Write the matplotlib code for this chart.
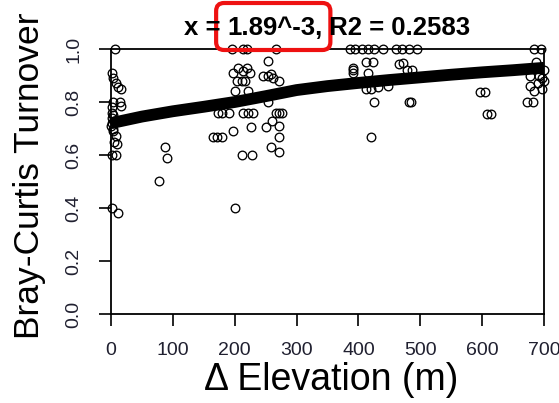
import matplotlib
matplotlib.use("Agg")
import matplotlib.pyplot as plt
from matplotlib.patches import FancyBboxPatch
from matplotlib.transforms import IdentityTransform

plt.rcParams['font.family'] = ['Liberation Sans', 'DejaVu Sans']

# scatter values: elevation difference (m), Bray-Curtis turnover
elev_near0 = [6, 2, 4, 8, 12, 16, 3, 15, 16, 2, 1, 3, 1, 5, 2, 0, 4, 3, 8, 5, 10, 2, 8, 2, 12]
turn_near0 = [1.0, 0.91, 0.89, 0.87, 0.855, 0.85, 0.80, 0.80, 0.785, 0.78, 0.76, 0.75, 0.74, 0.73,
              0.72, 0.71, 0.70, 0.69, 0.67, 0.65, 0.64, 0.60, 0.60, 0.40, 0.38]

elev_low = [78, 88, 91]
turn_low = [0.503, 0.632, 0.587]

elev_mid = [196, 214, 220, 267, 254, 214, 198, 205, 220, 225, 212, 217, 204, 245, 254, 262, 271, 258,
            201, 222, 254, 173, 180, 190, 214, 222, 230, 266, 271, 277,
            198, 227, 251, 261, 271, 165, 172, 180, 271, 258, 271, 212, 228, 201]
turn_mid = [1.0, 1.0, 1.0, 1.0, 0.956, 0.918, 0.91, 0.93, 0.93, 0.91, 0.88, 0.88, 0.88, 0.90, 0.90, 0.89, 0.88, 0.905,
            0.84, 0.84, 0.80, 0.758, 0.758, 0.758, 0.758, 0.758, 0.758, 0.758, 0.758, 0.758,
            0.69, 0.705, 0.705, 0.727, 0.71, 0.667, 0.667, 0.667, 0.667, 0.632, 0.613, 0.60, 0.60, 0.40]

elev_high = [387, 395, 405, 415, 425, 440, 460, 470, 482, 495, 412, 423, 392, 392, 392, 415,
             465, 472, 478, 486, 412, 420, 432, 447, 425, 481, 485, 421]
turn_high = [1.0, 1.0, 1.0, 1.0, 1.0, 1.0, 1.0, 1.0, 1.0, 1.0, 0.952, 0.952, 0.92, 0.93, 0.91, 0.91,
             0.945, 0.949, 0.92, 0.92, 0.85, 0.85, 0.855, 0.86, 0.80, 0.80, 0.80, 0.667]

elev_top = [596, 604, 608, 615, 684, 695, 687, 678, 692, 697, 678, 690, 684, 697, 672, 682, 700, 700]
turn_top = [0.838, 0.838, 0.754, 0.754, 1.0, 1.0, 0.952, 0.90, 0.90, 0.89, 0.86, 0.87, 0.84, 0.85,
            0.80, 0.80, 0.88, 0.92]

# fitted curve
fit_x = [0, 20, 50, 100, 150, 200, 250, 300, 350, 400, 450, 500, 550, 600, 650, 700]
fit_y = [0.720, 0.730, 0.745, 0.765, 0.782, 0.800, 0.822, 0.845, 0.860, 0.872, 0.883, 0.893,
         0.903, 0.912, 0.920, 0.929]

x_ticks = [0, 100, 200, 300, 400, 500, 600, 700]
y_ticks = [0.0, 0.2, 0.4, 0.6, 0.8, 1.0]

title_pre = "x = "
title_box = "1.89^-3,"
title_post = " R2 = 0.2583"

fig = plt.figure(figsize=(5.59, 4.03), dpi=100)
ax = fig.add_axes([111 / 559, 1 - 314 / 403, (544 - 111) / 559, (314 - 49) / 403])

xs = elev_near0 + elev_low + elev_mid + elev_high + elev_top
ys = turn_near0 + turn_low + turn_mid + turn_high + turn_top
ax.plot(xs, ys, 'o', mfc='none', mec='black', ms=6.2, mew=0.95, clip_on=False, zorder=2)
ax.plot(fit_x, fit_y, color='black', lw=8.5, solid_capstyle='butt', zorder=3)

ax.set_xlim(0, 700)
ax.set_ylim(0, 1)
ax.set_xticks(x_ticks)
ax.set_yticks(y_ticks)
ax.set_xticklabels([str(v) for v in x_ticks])
ax.set_yticklabels(["%.1f" % v for v in y_ticks], rotation=90, va='center', ha='right')
ax.tick_params(axis='both', direction='out', length=8.5, width=1.2, labelsize=14,
               labelcolor='#202030')
ax.tick_params(axis='x', pad=12)
ax.tick_params(axis='y', pad=12)
for s in ax.spines.values():
    s.set_linewidth(1.3)

ax.set_xlabel("\u0394 Elevation (m)", fontsize=27)
ax.set_ylabel("Bray-Curtis Turnover", fontsize=25.5)
ax.xaxis.set_label_coords((331 - 111) / 433, (314 - 362) / 265)
ax.yaxis.set_label_coords((46 - 111) / 433, (314 - 176) / 265)

# title drawn in three pieces so the red box can wrap the middle one
title_kw = dict(fontsize=18.5, fontweight='bold', va='center')
renderer = fig.canvas.get_renderer()
parts = []
for s in (title_pre, title_box, title_post):
    t = fig.text(0, 0, s, **title_kw)
    parts.append(t)
widths = [p.get_window_extent(renderer).width for p in parts]
total = sum(widths)
x0 = 327 - total / 2
y_c = 403 - 28
pos = []
for p, w in zip(parts, widths):
    p.set_transform(IdentityTransform())
    p.set_position((x0, y_c))
    p.set_ha('left')
    pos.append(x0)
    x0 += w

bx = pos[1] - 11
bw = widths[1] + 19
box = FancyBboxPatch((bx, 403 - 50), bw, 47, boxstyle="round,pad=0,rounding_size=8",
                     transform=IdentityTransform(), fill=False, ec='#ee1111', lw=3)
fig.patches.append(box)

fig.savefig("out.png", dpi=100)
